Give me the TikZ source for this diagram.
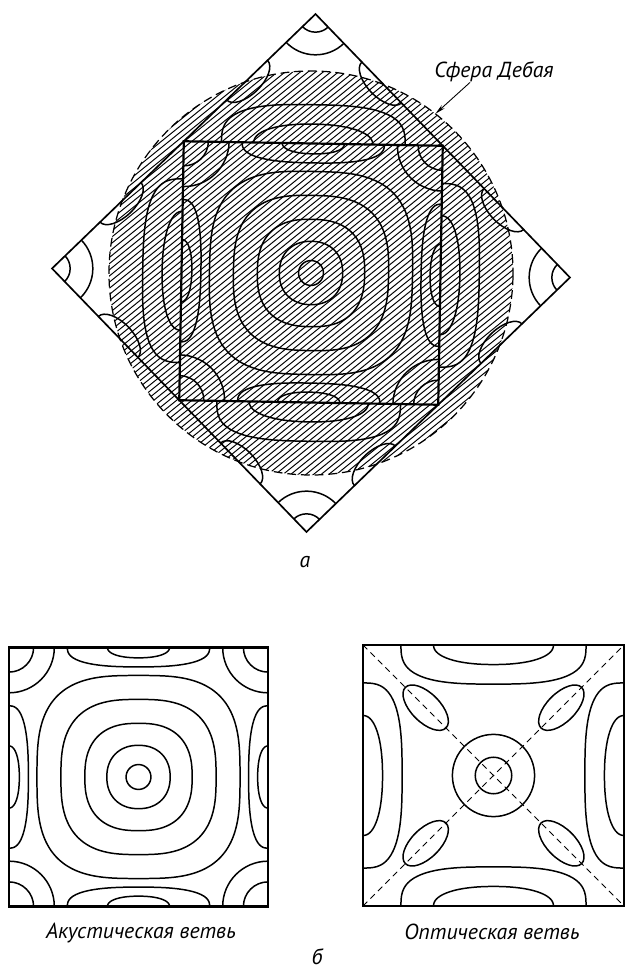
\documentclass[tikz,border=0pt]{standalone}
\usepackage{fontspec}
\setmainfont{PT Sans}
\usetikzlibrary{arrows.meta}

\tikzset{
  declare function={sq(\ang,\ex)=1/((abs(cos(\ang))+0.001)^\ex+(abs(sin(\ang))+0.001)^\ex)^(1/\ex);},
  contour/.style={line width=0.85pt},
  zone/.style={line width=1.25pt},
  hatch/.style={line width=0.55pt},
  lbl/.style={font=\itshape\fontsize{12.4}{15}\selectfont, inner sep=1pt},
}

% акустическая ветвь в квадрате [-1,1]^2
\newcommand{\acousticpat}{%
  \foreach \rr/\nn in {0.096/2, 0.245/2.2, 0.415/2.5, 0.60/2.8, 0.785/3.1}
    \draw[contour] plot[smooth cycle, domain=0:355, samples=72]
      ({\rr*cos(\x)*sq(\x,\nn)}, {\rr*sin(\x)*sq(\x,\nn)});
  \foreach \k in {0,90,180,270}
    \foreach \ll/\dd/\nn in {0.55/0.15/2.6, 0.24/0.08/2.2}
      \draw[contour, rotate=\k, shift={(0,1)}] plot[smooth cycle, domain=0:355, samples=72]
        ({\ll*cos(\x)*sq(\x,\nn)}, {\dd*sin(\x)*sq(\x,\nn)});
  \foreach \cx/\cy in {1/1, -1/1, -1/-1, 1/-1}
    \draw[contour] (\cx,\cy) circle (0.19) (\cx,\cy) circle (0.35);
}

% оптическая ветвь в квадрате [-1,1]^2
\newcommand{\opticpat}{%
  \draw[contour] (0,0) circle (0.14) (0,0) circle (0.315);
  \foreach \k in {45,135,225,315}
    \draw[contour, rotate=\k] (0.735,0) ellipse [x radius=0.22, y radius=0.11];
  \foreach \k in {0,90,180,270}
    \foreach \ll/\dd/\nn in {0.71/0.30/3, 0.46/0.15/2.2}
      \draw[contour, rotate=\k, shift={(0,1)}] plot[smooth cycle, domain=0:355, samples=72]
        ({\ll*cos(\x)*sq(\x,\nn)}, {\dd*sin(\x)*sq(\x,\nn)});
}

\begin{document}
\begin{tikzpicture}[x=0.02cm, y=0.02cm]
  \useasboundingbox (0,0) rectangle (625,975);

  % a) расширенная зонная схема
  \begin{scope}[shift={(311,702)}, scale=129.5, rotate=-1]
    % штриховка внутри сферы Дебая
    \begin{scope}
      \clip (0,0) circle (1.56);
      \begin{scope}[rotate=40]
        \foreach \i in {-44,...,44}
          \draw[hatch] (-1.7,\i*0.037) -- (1.7,\i*0.037);
      \end{scope}
    \end{scope}
    % первая зона
    \begin{scope}
      \clip (-1,-1) rectangle (1,1);
      \acousticpat
    \end{scope}
    % вторая зона
    \foreach \q in {0,90,180,270} {
      \begin{scope}[rotate=\q]
        \clip (-1,1) -- (-1,-1) -- (-2,0) -- cycle;
        \begin{scope}[shift={(-2,0)}]
          \opticpat
        \end{scope}
      \end{scope}
    }
    \draw[zone] (-1,-1) rectangle (1,1);
    \draw[line width=0.95pt] (2,0) -- (0,2) -- (-2,0) -- (0,-2) -- cycle;
    \draw[line width=0.7pt, dash pattern=on 5pt off 2.8pt] (0,0) circle (1.56);
    \coordinate (onsphere) at (53:1.56);
  \end{scope}

  \node[lbl] (debye) at (494,903) {Сфера Дебая};
  \draw[line width=0.5pt, -{Stealth[length=6pt, width=2.5pt]}]
    ([xshift=-0.48cm, yshift=1pt]debye.south) -- (onsphere);
  \node[lbl] (capa) at (305,413) {а};

  % б) акустическая ветвь
  \begin{scope}[shift={(138.5,198)}, scale=129.5]
    \begin{scope}
      \clip (-1,-1) rectangle (1,1);
      \acousticpat
    \end{scope}
    \draw[zone] (-1,-1) rectangle (1,1);
  \end{scope}

  % б) оптическая ветвь
  \begin{scope}[shift={(493.5,199.5)}, scale=130.5]
    \begin{scope}
      \clip (-1,-1) rectangle (1,1);
      \opticpat
      \draw[line width=0.45pt, dash pattern=on 3.5pt off 2.5pt] (-1,-1) -- (1,1) (-1,1) -- (1,-1);
    \end{scope}
    \draw[zone] (-1,-1) rectangle (1,1);
  \end{scope}

  \node[lbl] (acoustlbl) at (141,42) {Акустическая ветвь};
  \node[lbl] (opticlbl) at (492,43) {Оптическая ветвь};
  \node[lbl] (capb) at (317,18) {б};
\end{tikzpicture}
\end{document}
